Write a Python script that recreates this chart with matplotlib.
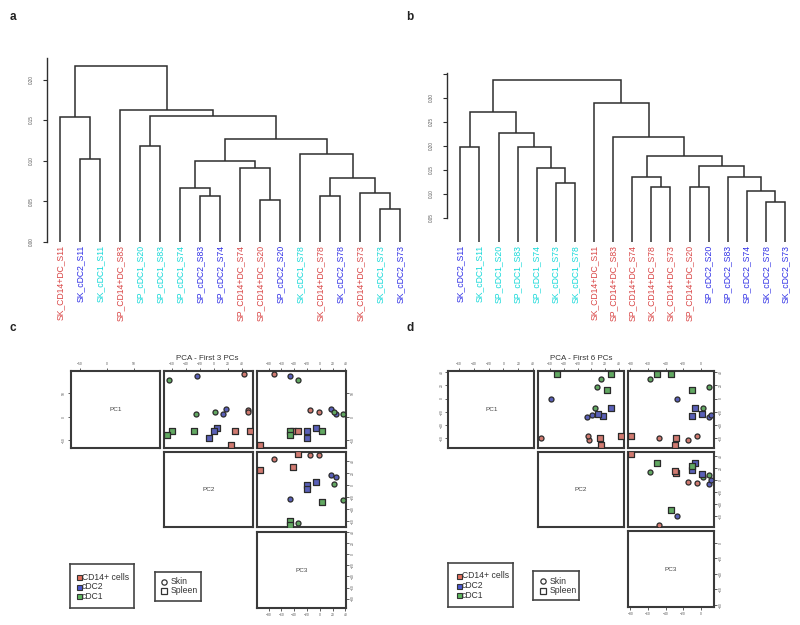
import matplotlib
matplotlib.use('Agg')
import matplotlib.pyplot as plt
from matplotlib.transforms import offset_copy

plt.rcParams['font.family'] = ['Liberation Sans', 'DejaVu Sans']

# ---------------- data ----------------
labels_a = ['SK_CD14+DC_S11', 'SK_cDC2_S11', 'SK_cDC1_S11', 'SP_CD14+DC_S83', 'SP_cDC1_S20',
            'SP_cDC1_S83', 'SP_cDC1_S74', 'SP_cDC2_S83', 'SP_cDC2_S74', 'SP_CD14+DC_S74',
            'SP_CD14+DC_S20', 'SP_cDC2_S20', 'SK_cDC1_S78', 'SK_CD14+DC_S78', 'SK_cDC2_S78',
            'SK_CD14+DC_S73', 'SK_cDC1_S73', 'SK_cDC2_S73']
# merges: (child, child, height); negative = leaf position (1-based), positive = earlier merge
merges_a = [(-17, -18, 0.0407), (-11, -12, 0.051), (-14, -15, 0.0563), (-8, -9, 0.0567),
            (-16, 1, 0.0597), (-7, 4, 0.0658), (3, 5, 0.0785), (-10, 2, 0.0909),
            (6, 8, 0.0995), (-2, -3, 0.1016), (-13, 7, 0.1078), (-5, -6, 0.118),
            (9, 11, 0.127), (-1, 10, 0.154), (12, 13, 0.155), (-4, 15, 0.163), (14, 16, 0.217)]
ticks_a = [0.00, 0.05, 0.10, 0.15, 0.20]

labels_b = ['SK_cDC2_S11', 'SK_cDC1_S11', 'SP_cDC1_S20', 'SP_cDC1_S83', 'SP_cDC1_S74',
            'SK_cDC1_S73', 'SK_cDC1_S78', 'SK_CD14+DC_S11', 'SP_CD14+DC_S83', 'SP_CD14+DC_S74',
            'SK_CD14+DC_S78', 'SK_CD14+DC_S73', 'SP_CD14+DC_S20', 'SP_cDC2_S20', 'SP_cDC2_S83',
            'SP_cDC2_S74', 'SK_cDC2_S78', 'SK_cDC2_S73']
merges_b = [(-17, -18, 0.082), (-16, 1, 0.105), (-11, -12, 0.1146), (-13, -14, 0.114),
            (-6, -7, 0.1216), (-15, 2, 0.134), (-10, 3, 0.135), (-5, 5, 0.153),
            (4, 6, 0.158), (7, 9, 0.1785), (-1, -2, 0.1966), (-4, 8, 0.198),
            (-9, 10, 0.2175), (-3, 12, 0.227), (11, 14, 0.270), (-8, 13, 0.290), (15, 16, 0.337)]
ticks_b = [0.05, 0.10, 0.15, 0.20, 0.25, 0.30]

celltypes = ['CD14+ cells', 'cDC2', 'cDC1']
tissues = ['Skin', 'Spleen']

# PCA - first 3 PCs (panel c)
type_c = ['cDC1', 'cDC2', 'CD14+ cells', 'cDC1', 'cDC1', 'cDC2', 'cDC2', 'CD14+ cells', 'CD14+ cells',
          'cDC1', 'cDC1', 'cDC1', 'cDC2', 'cDC2', 'cDC2', 'CD14+ cells', 'CD14+ cells', 'CD14+ cells']
tissue_c = ['Skin'] * 9 + ['Spleen'] * 9
pc1_c = [77.8, 87.8, 92.1, 5.0, 10.0, 16.4, 6.0, 14.3, 9.3, -30.0, -39.9, -31.4, -25.0, -30.7, -45.7, -30.7, -30.0, -60.7]
pc2_c = [-63.8, -23.7, 42.1, -25.1, 1.4, 16.6, 12.3, 48.7, 48.7, -60.0, -67.1, -28.4, 3.8, 0.0, -7.1, 30.2, 50.6, 23.7]
pc3_c = [-34.4, -46.4, -70.9, 35.8, 22.7, 17.1, 25.4, -14.5, -1.4, -46.4, -46.4, 3.5, -5.8, -19.9, -19.9, -42.0, -34.7, -93.3]
lims_c = [(-66.5, 97.8), (-70.9, 54.9), (-97.5, 41.0)]
ticks_c = [[-50, 0, 50], [-60, -40, -20, 0, 20, 40], [-80, -60, -40, -20, 0, 20, 40]]

# PCA - first 6 PCs (panel d)
type_d = ['CD14+ cells'] * 6 + ['cDC1'] * 6 + ['cDC2'] * 6
tissue_d = ['Spleen', 'Skin', 'Spleen', 'Spleen', 'Skin', 'Skin',
            'Spleen', 'Spleen', 'Skin', 'Skin', 'Spleen', 'Skin',
            'Skin', 'Spleen', 'Spleen', 'Spleen', 'Skin', 'Skin']
pc1_d = [-56.9, -59.0, -59.9, -70.0, -62.5, -56.9, 37.4, 36.4, 28.9, 17.3, 13.2, -14.8, -0.3, -14.8, -26.8, -23.3, -28.3, -24.4]
pc2_d = [43.8, -73.5, 12.0, 14.5, -3.6, -4.9, 28.3, -49.3, 14.1, 8.9, 23.3, 4.8, -59.3, 27.9, 16.4, 9.9, -5.8, 1.0]
pc3_d = [-79.6, -47.8, -27.6, -29.1, -14.1, -4.6, -49.4, -33.7, -57.7, 9.3, -9.5, 2.2, -26.5, -6.8, -9.8, 1.1, 9.0, 11.5]
lims_d = [(-74.0, 41.4), (-78.0, 47.0), (-83.0, 15.0)]
ticks_d = [[-60, -40, -20, 0, 20, 40], [-60, -40, -20, 0, 20, 40], [-80, -60, -40, -20, 0]]

# ---------------- styling ----------------
W, H = 800, 625
fig = plt.figure(figsize=(8, 6.25), dpi=100)
LINE = '#2e2e2e'
TICKC = '#555555'
type_fill = {'CD14+ cells': '#E2705C', 'cDC2': '#4A58D0', 'cDC1': '#5DB85D'}
point_fill = {'CD14+ cells': '#D07A70', 'cDC2': '#5A60B8', 'cDC1': '#62A862'}
label_col = {'CD14': '#D94444', 'cDC2': '#2E2EE6', 'cDC1': '#12D8D8'}
tissue_marker = {'Skin': 'o', 'Spleen': 's'}


def px_axes(x0, y0, x1, y1):
    return fig.add_axes([x0 / W, 1 - y1 / H, (x1 - x0) / W, (y1 - y0) / H])


def lab_color(s):
    for k, c in label_col.items():
        if k in s:
            return c
    return 'k'


def draw_dendro(ax, labels, merges):
    pos = {}

    def get(c):
        if c < 0:
            return (-c - 1, 0.0)
        return pos[c]
    for k, (l, r, h) in enumerate(merges, start=1):
        xl, hl = get(l)
        xr, hr = get(r)
        ax.plot([xl, xl, xr, xr], [hl, h, h, hr], color=LINE, lw=1.1,
                solid_joinstyle='miter', solid_capstyle='butt', clip_on=False)
        pos[k] = ((xl + xr) / 2, h)
    tr = offset_copy(ax.transData, fig=fig, x=0, y=-3.5, units='dots')
    for i, s in enumerate(labels):
        ax.text(i, 0, s, rotation=90, ha='center', va='top', fontsize=6.2,
                color=lab_color(s), transform=tr)


def style_dendro_axis(ax, ticks, bounds, extra_ticks=()):
    for sp in ['top', 'right', 'bottom']:
        ax.spines[sp].set_visible(False)
    ax.spines['left'].set_bounds(*bounds)
    ax.spines['left'].set_color(LINE)
    ax.spines['left'].set_linewidth(1.0)
    ax.set_xticks([])
    allt = list(ticks) + list(extra_ticks)
    ax.set_yticks(allt)
    ax.set_yticklabels(['%.2f' % t for t in ticks] + [''] * len(extra_ticks))
    ax.tick_params(axis='y', length=3, width=0.8, color=LINE, labelsize=3.3,
                   labelcolor=TICKC, pad=6, labelrotation=90)
    for t in ax.get_yticklabels():
        t.set_va('center')
    ax.patch.set_visible(False)


# panel a dendrogram
axa = px_axes(46.7, 50, 405, 241.7)
axa.set_xlim((46.7 - 60.3) / 20, (405 - 60.3) / 20)
axa.set_ylim(0, (241.7 - 50) / 811)
draw_dendro(axa, labels_a, merges_a)
style_dendro_axis(axa, ticks_a, (0, 0.226))

# panel b dendrogram
axb = px_axes(446.7, 60, 790, 241.7)
axb.set_xlim((446.7 - 460.3) / 19.1, (790 - 460.3) / 19.1)
axb.set_ylim(0, (241.7 - 60) / 480)
draw_dendro(axb, labels_b, merges_b)
style_dendro_axis(axb, ticks_b, (0.05, 0.351), extra_ticks=(0.35,))


def draw_pairs(cols, rows, pcs, types, tiss, lims, ticks):
    for i in range(3):
        for j in range(3):
            if j < i:
                continue
            ax = px_axes(cols[j][0], rows[i][0], cols[j][1], rows[i][1])
            ax.set_xlim(*lims[j])
            ax.set_ylim(*lims[i])
            for sp in ax.spines.values():
                sp.set_linewidth(1.5)
                sp.set_color('#3a3a3a')
            if i == j:
                ax.text(0.5, 0.5, 'PC%d' % (i + 1), transform=ax.transAxes, ha='center',
                        va='center', fontsize=4.6, color='#444444')
            else:
                for t in tissues:
                    for ct in celltypes:
                        xs = [pcs[j][k] for k in range(len(types)) if types[k] == ct and tiss[k] == t]
                        ys = [pcs[i][k] for k in range(len(types)) if types[k] == ct and tiss[k] == t]
                        ax.scatter(xs, ys, s=13, marker=tissue_marker[t], facecolor=point_fill[ct],
                                   edgecolor='#2a2a2a', linewidths=0.9, zorder=3)
            top = (i == 0)
            bottom = (i == 2 and j == 2)
            left = (i == 0 and j == 0)
            right = (j == 2)
            ax.set_xticks(ticks[j] if (top or bottom) else [])
            ax.set_yticks(ticks[i] if (left or right) else [])
            ax.tick_params(top=top, labeltop=top, bottom=bottom, labelbottom=bottom,
                           left=left, labelleft=left, right=right, labelright=right,
                           length=2.2, width=0.6, color='#444444', labelsize=2.4,
                           labelcolor=TICKC, pad=1.2)
            ax.tick_params(axis='y', labelrotation=90)
            for t in ax.get_yticklabels():
                t.set_va('center')


cols_c = [(70.7, 160), (164, 252.7), (257.3, 346)]
rows_c = [(371, 447.7), (451.7, 527.3), (531.7, 608.3)]
draw_pairs(cols_c, rows_c, [pc1_c, pc2_c, pc3_c], type_c, tissue_c, lims_c, ticks_c)

cols_d = [(448.3, 534.3), (537.7, 623.7), (627.7, 714)]
rows_d = [(371, 447.7), (451.7, 527.3), (531, 607.3)]
draw_pairs(cols_d, rows_d, [pc1_d, pc2_d, pc3_d], type_d, tissue_d, lims_d, ticks_d)

fig.text(207.5 / W, 1 - 358.5 / H, 'PCA - First 3 PCs', ha='center', va='center', fontsize=5.8, color='#333333')
fig.text(581 / W, 1 - 358.5 / H, 'PCA - First 6 PCs', ha='center', va='center', fontsize=5.8, color='#333333')


def legend_box(box, ys, mx, tx, names, kind):
    x0, y0, x1, y1 = box
    ax = px_axes(x0, y0, x1, y1)
    ax.set_xlim(x0, x1)
    ax.set_ylim(y1, y0)
    ax.set_xticks([])
    ax.set_yticks([])
    for sp in ax.spines.values():
        sp.set_linewidth(1.2)
        sp.set_color('#444444')
    for y, nm in zip(ys, names):
        if kind == 'type':
            ax.plot([mx], [y], marker='s', ms=3.6, mfc=type_fill[nm], mec='#333333', mew=0.8, ls='none')
        else:
            ax.plot([mx], [y], marker=tissue_marker[nm], ms=3.8, mfc='white', mec='#333333', mew=0.9, ls='none')
        ax.text(tx, y, nm, ha='left', va='center', fontsize=6.2, color='#333333')


legend_box((70, 564, 134, 607.7), [577.3, 587, 596.3], 78.7, 81.8, celltypes, 'type')
legend_box((154.7, 571.7, 200.7, 601), [581.7, 591], 164.3, 170.3, tissues, 'tissue')
legend_box((448.3, 563.3, 512.7, 606.7), [576, 585.7, 595.3], 458.7, 461.8, celltypes, 'type')
legend_box((533, 571, 579.3, 600), [581.3, 590.7], 543.3, 549.3, tissues, 'tissue')

for s, x, y in [('a', 13, 17), ('b', 410, 17), ('c', 13, 328), ('d', 410, 328)]:
    fig.text(x / W, 1 - y / H, s, ha='center', va='center', fontsize=8.5, fontweight='bold', color='#222222')

fig.savefig('out.png', dpi=100)
